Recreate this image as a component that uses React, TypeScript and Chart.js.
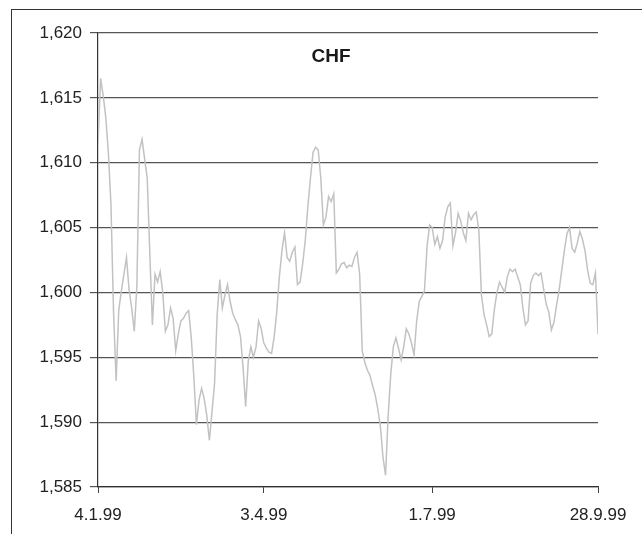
import React, { useEffect, useRef } from "react";
import { Chart, registerables } from "chart.js";

Chart.register(...registerables);

const seriesName = "CHF";

const rates: number[] = [
  1.6115, 1.6165, 1.6152, 1.6135, 1.6108, 1.6068, 1.5985, 1.5932, 1.5986, 1.6001,
  1.6014, 1.6027, 1.6002, 1.5988, 1.5970, 1.6005, 1.6110, 1.6118, 1.6103, 1.6088,
  1.6030, 1.5975, 1.6014, 1.6008, 1.6016, 1.6000, 1.5970, 1.5975, 1.5988, 1.5980,
  1.5955, 1.5968, 1.5978, 1.5980, 1.5984, 1.5986, 1.5965, 1.5935, 1.5898, 1.5917,
  1.5926, 1.5918, 1.5905, 1.5886, 1.5908, 1.5930, 1.5983, 1.6010, 1.5988, 1.5998,
  1.6006, 1.5993, 1.5984, 1.5979, 1.5975, 1.5966, 1.5942, 1.5912, 1.5947, 1.5958,
  1.5950, 1.5958, 1.5978, 1.5972, 1.5961, 1.5957, 1.5954, 1.5953, 1.5966, 1.5985,
  1.6012, 1.6032, 1.6046, 1.6027, 1.6024, 1.6031, 1.6035, 1.6006, 1.6008, 1.6022,
  1.6040, 1.6066, 1.6088, 1.6108, 1.6112, 1.6110, 1.6088, 1.6052, 1.6058, 1.6074,
  1.6070, 1.6076, 1.6015, 1.6018, 1.6022, 1.6023, 1.6019, 1.6021, 1.6020, 1.6027,
  1.6031, 1.6014, 1.5955, 1.5946, 1.5940, 1.5936, 1.5928, 1.5921, 1.5910, 1.5897,
  1.5873, 1.5859, 1.5905, 1.5937, 1.5958, 1.5965, 1.5957, 1.5948, 1.5958, 1.5972,
  1.5968, 1.5961, 1.5952, 1.5978, 1.5993, 1.5997, 1.6001, 1.6035, 1.6052, 1.6050,
  1.6037, 1.6043, 1.6034, 1.6040, 1.6058, 1.6066, 1.6069, 1.6036, 1.6046, 1.6061,
  1.6055, 1.6046, 1.6040, 1.6061, 1.6056, 1.6060, 1.6062, 1.6048, 1.5998, 1.5983,
  1.5975, 1.5966, 1.5968, 1.5987, 1.6000, 1.6008, 1.6004, 1.6000, 1.6012, 1.6018,
  1.6016, 1.6018, 1.6012, 1.6006, 1.5988, 1.5975, 1.5978, 1.6007, 1.6013, 1.6015,
  1.6013, 1.6015, 1.6003, 1.5991, 1.5985, 1.5971, 1.5977, 1.5990, 1.6002, 1.6017,
  1.6032, 1.6045, 1.6050, 1.6034, 1.6031, 1.6038, 1.6047, 1.6041, 1.6032, 1.6017,
  1.6007, 1.6006, 1.6015, 1.5968,
];

const dateLabels: string[] = ["4.1.99", "3.4.99", "1.7.99", "28.9.99"];
const dateIndices: number[] = [0, 64, 129, 193];

const yMin = 1.585;
const yMax = 1.62;
const yStep = 0.005;

const FONT = '"Liberation Sans", Arial, Helvetica, sans-serif';

export default function App() {
  const canvasRef = useRef<HTMLCanvasElement | null>(null);

  useEffect(() => {
    document.body.style.margin = "0";
    const canvas = canvasRef.current;
    if (!canvas) return;

    const titlePlugin = {
      id: "innerTitle",
      afterDraw(chart: any) {
        const { ctx, chartArea } = chart;
        ctx.save();
        ctx.font = `bold 19px ${FONT}`;
        ctx.fillStyle = "#1a1a1a";
        ctx.textAlign = "center";
        ctx.textBaseline = "middle";
        const x = chartArea.left + (chartArea.right - chartArea.left) * 0.466;
        const y = chartArea.top + (chartArea.bottom - chartArea.top) * 0.052;
        ctx.fillText(seriesName, x, y);
        ctx.restore();
      },
    };

    const chart = new Chart(canvas, {
      type: "line",
      data: {
        datasets: [
          {
            label: seriesName,
            data: rates.map((v, i) => ({ x: i, y: v })),
            borderColor: "#c2c2c2",
            borderWidth: 1.5,
            pointRadius: 0,
            tension: 0,
            fill: false,
          },
        ],
      },
      options: {
        animation: false,
        responsive: false,
        events: [],
        layout: { padding: { top: 33, right: 44, bottom: 0, left: 0 } },
        plugins: {
          legend: { display: false },
          tooltip: { enabled: false },
          title: { display: false },
        },
        scales: {
          x: {
            type: "linear",
            min: 0,
            max: rates.length - 1,
            afterBuildTicks: (scale: any) => {
              scale.ticks = dateIndices.map((v) => ({ value: v }));
            },
            afterFit: (scale: any) => {
              scale.height = 47;
            },
            ticks: {
              autoSkip: false,
              maxRotation: 0,
              padding: 12,
              color: "#222",
              font: { family: FONT, size: 17 },
              callback: (value: any) => {
                const k = dateIndices.indexOf(Number(value));
                return k >= 0 ? dateLabels[k] : "";
              },
            },
            grid: {
              display: true,
              drawOnChartArea: false,
              drawTicks: true,
              tickLength: 6,
              color: "#444",
            },
            border: { display: true, color: "#333", width: 1.2 },
          },
          y: {
            min: yMin,
            max: yMax,
            afterBuildTicks: (scale: any) => {
              const t: any[] = [];
              const n = Math.round((yMax - yMin) / yStep);
              for (let i = 0; i <= n; i++) t.push({ value: +(yMin + i * yStep).toFixed(3) });
              scale.ticks = t;
            },
            afterFit: (scale: any) => {
              scale.width = 98;
            },
            ticks: {
              padding: 8,
              color: "#222",
              font: { family: FONT, size: 17 },
              callback: (value: any) => Number(value).toFixed(3).replace(".", ","),
            },
            grid: {
              color: "#555",
              lineWidth: 1.2,
              tickLength: 8,
            },
            border: { display: true, color: "#333", width: 1.2 },
          },
        },
      },
      plugins: [titlePlugin],
    });

    return () => chart.destroy();
  }, []);

  return (
    <div style={{ position: "fixed", left: 0, top: 0, width: 642, height: 534, background: "#fff" }}>
      <canvas ref={canvasRef} width={642} height={534} style={{ position: "absolute", left: 0, top: 0 }} />
      <div
        style={{
          position: "absolute",
          left: 11,
          top: 9,
          width: 631,
          height: 525,
          borderTop: "1.5px solid #333",
          borderLeft: "1.5px solid #333",
          boxSizing: "border-box",
          pointerEvents: "none",
        }}
      />
    </div>
  );
}
